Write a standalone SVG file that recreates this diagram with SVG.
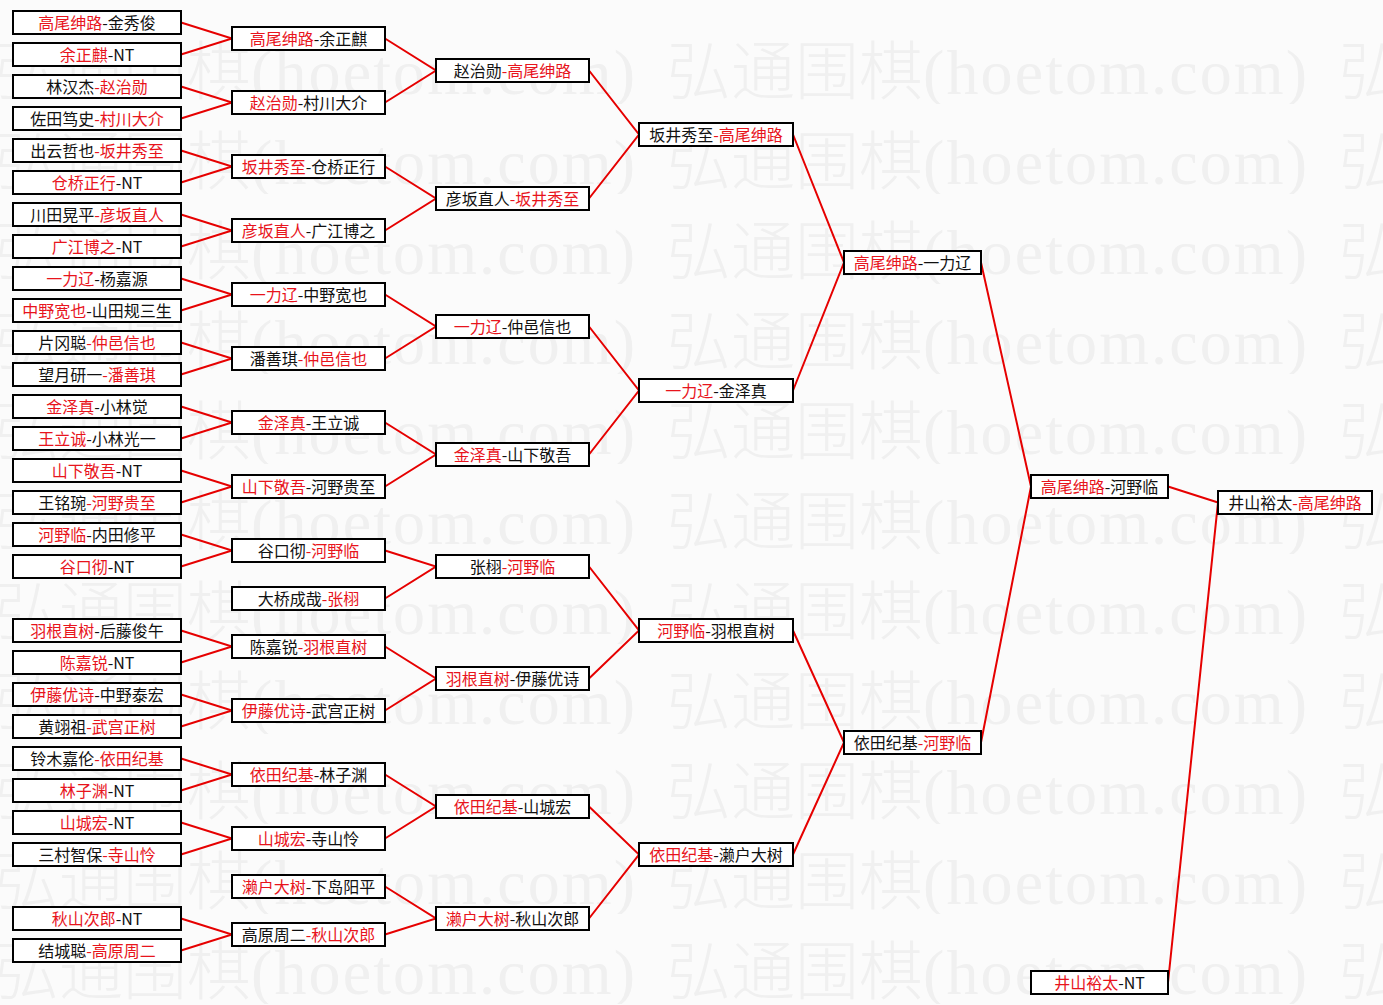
<svg xmlns="http://www.w3.org/2000/svg" width="1383" height="1005" viewBox="0 0 1383 1005">
<defs>
<style>
.bx rect{fill:#fff;stroke:#000;stroke-width:2}
.bx text{font-family:"Noto Sans CJK SC","Noto Sans CJK JP",sans-serif;font-size:16px;text-anchor:middle;fill:#111}
.r{fill:#e8141c}
#links path{fill:none;stroke:#e60000;stroke-width:2}
.wm{fill:#f0f0f0;font-size:64px}
</style>
<pattern id="wmp" patternUnits="userSpaceOnUse" x="-5" y="14" width="672" height="90">
<text class="wm" x="0" y="80" font-family="Noto Sans CJK SC, sans-serif" font-weight="300">弘通围棋</text>
<text class="wm" x="256" y="80" font-family="Liberation Serif, serif" textLength="384" lengthAdjust="spacing">(hoetom.com)</text>
</pattern>
</defs>
<rect x="0" y="0" width="1383" height="1005" fill="#fbfbfb"/>
<rect x="0" y="14" width="1383" height="991" fill="url(#wmp)"/>

<g id="links">
<path d="M181 22.5L232 38.5L181 54.5"/>
<path d="M181 86.5L232 102.5L181 118.5"/>
<path d="M181 150.5L232 166.5L181 182.5"/>
<path d="M181 214.5L232 230.5L181 246.5"/>
<path d="M181 278.5L232 294.5L181 310.5"/>
<path d="M181 342.5L232 358.5L181 374.5"/>
<path d="M181 406.5L232 422.5L181 438.5"/>
<path d="M181 470.5L232 486.5L181 502.5"/>
<path d="M181 534.5L232 550.5L181 566.5"/>
<path d="M181 630.5L232 646.5L181 662.5"/>
<path d="M181 694.5L232 710.5L181 726.5"/>
<path d="M181 758.5L232 774.5L181 790.5"/>
<path d="M181 822.5L232 838.5L181 854.5"/>
<path d="M181 918.5L232 934.5L181 950.5"/>
<path d="M385 38.5L436 70.5L385 102.5"/>
<path d="M385 166.5L436 198.5L385 230.5"/>
<path d="M385 294.5L436 326.5L385 358.5"/>
<path d="M385 422.5L436 454.5L385 486.5"/>
<path d="M385 550.5L436 566.5L385 598.5"/>
<path d="M385 646.5L436 678.5L385 710.5"/>
<path d="M385 774.5L436 806.5L385 838.5"/>
<path d="M385 886.5L436 918.5L385 934.5"/>
<path d="M589 70.5L639 134.5L589 198.5"/>
<path d="M589 326.5L639 390.5L589 454.5"/>
<path d="M589 566.5L639 630.5L589 678.5"/>
<path d="M589 806.5L639 854.5L589 918.5"/>
<path d="M793 134.5L844 262.5L793 390.5"/>
<path d="M793 630.5L844 742.5L793 854.5"/>
<path d="M981 262.5L1031 486.5L981 742.5"/>
<path d="M1168 486.5L1218 502.5L1168 982.5"/>
</g>

<g id="r1-01" class="bx" transform="translate(0,22.5)"><rect x="13" y="-11.5" width="168" height="23"/><text x="97" y="6"><tspan class="r">高尾绅路</tspan>-金秀俊</text></g>
<g id="r1-02" class="bx" transform="translate(0,54.5)"><rect x="13" y="-11.5" width="168" height="23"/><text x="97" y="6"><tspan class="r">余正麒</tspan>-NT</text></g>
<g id="r1-03" class="bx" transform="translate(0,86.5)"><rect x="13" y="-11.5" width="168" height="23"/><text x="97" y="6">林汉杰<tspan class="r">-赵治勋</tspan></text></g>
<g id="r1-04" class="bx" transform="translate(0,118.5)"><rect x="13" y="-11.5" width="168" height="23"/><text x="97" y="6">佐田笃史<tspan class="r">-村川大介</tspan></text></g>
<g id="r1-05" class="bx" transform="translate(0,150.5)"><rect x="13" y="-11.5" width="168" height="23"/><text x="97" y="6">出云哲也<tspan class="r">-坂井秀至</tspan></text></g>
<g id="r1-06" class="bx" transform="translate(0,182.5)"><rect x="13" y="-11.5" width="168" height="23"/><text x="97" y="6"><tspan class="r">仓桥正行</tspan>-NT</text></g>
<g id="r1-07" class="bx" transform="translate(0,214.5)"><rect x="13" y="-11.5" width="168" height="23"/><text x="97" y="6">川田晃平<tspan class="r">-彦坂直人</tspan></text></g>
<g id="r1-08" class="bx" transform="translate(0,246.5)"><rect x="13" y="-11.5" width="168" height="23"/><text x="97" y="6"><tspan class="r">广江博之</tspan>-NT</text></g>
<g id="r1-09" class="bx" transform="translate(0,278.5)"><rect x="13" y="-11.5" width="168" height="23"/><text x="97" y="6"><tspan class="r">一力辽</tspan>-杨嘉源</text></g>
<g id="r1-10" class="bx" transform="translate(0,310.5)"><rect x="13" y="-11.5" width="168" height="23"/><text x="97" y="6"><tspan class="r">中野宽也</tspan>-山田规三生</text></g>
<g id="r1-11" class="bx" transform="translate(0,342.5)"><rect x="13" y="-11.5" width="168" height="23"/><text x="97" y="6">片冈聪<tspan class="r">-仲邑信也</tspan></text></g>
<g id="r1-12" class="bx" transform="translate(0,374.5)"><rect x="13" y="-11.5" width="168" height="23"/><text x="97" y="6">望月研一<tspan class="r">-潘善琪</tspan></text></g>
<g id="r1-13" class="bx" transform="translate(0,406.5)"><rect x="13" y="-11.5" width="168" height="23"/><text x="97" y="6"><tspan class="r">金泽真</tspan>-小林觉</text></g>
<g id="r1-14" class="bx" transform="translate(0,438.5)"><rect x="13" y="-11.5" width="168" height="23"/><text x="97" y="6"><tspan class="r">王立诚</tspan>-小林光一</text></g>
<g id="r1-15" class="bx" transform="translate(0,470.5)"><rect x="13" y="-11.5" width="168" height="23"/><text x="97" y="6"><tspan class="r">山下敬吾</tspan>-NT</text></g>
<g id="r1-16" class="bx" transform="translate(0,502.5)"><rect x="13" y="-11.5" width="168" height="23"/><text x="97" y="6">王铭琬<tspan class="r">-河野贵至</tspan></text></g>
<g id="r1-17" class="bx" transform="translate(0,534.5)"><rect x="13" y="-11.5" width="168" height="23"/><text x="97" y="6"><tspan class="r">河野临</tspan>-内田修平</text></g>
<g id="r1-18" class="bx" transform="translate(0,566.5)"><rect x="13" y="-11.5" width="168" height="23"/><text x="97" y="6"><tspan class="r">谷口彻</tspan>-NT</text></g>
<g id="r1-19" class="bx" transform="translate(0,630.5)"><rect x="13" y="-11.5" width="168" height="23"/><text x="97" y="6"><tspan class="r">羽根直树</tspan>-后藤俊午</text></g>
<g id="r1-20" class="bx" transform="translate(0,662.5)"><rect x="13" y="-11.5" width="168" height="23"/><text x="97" y="6"><tspan class="r">陈嘉锐</tspan>-NT</text></g>
<g id="r1-21" class="bx" transform="translate(0,694.5)"><rect x="13" y="-11.5" width="168" height="23"/><text x="97" y="6"><tspan class="r">伊藤优诗</tspan>-中野泰宏</text></g>
<g id="r1-22" class="bx" transform="translate(0,726.5)"><rect x="13" y="-11.5" width="168" height="23"/><text x="97" y="6">黄翊祖<tspan class="r">-武宫正树</tspan></text></g>
<g id="r1-23" class="bx" transform="translate(0,758.5)"><rect x="13" y="-11.5" width="168" height="23"/><text x="97" y="6">铃木嘉伦<tspan class="r">-依田纪基</tspan></text></g>
<g id="r1-24" class="bx" transform="translate(0,790.5)"><rect x="13" y="-11.5" width="168" height="23"/><text x="97" y="6"><tspan class="r">林子渊</tspan>-NT</text></g>
<g id="r1-25" class="bx" transform="translate(0,822.5)"><rect x="13" y="-11.5" width="168" height="23"/><text x="97" y="6"><tspan class="r">山城宏</tspan>-NT</text></g>
<g id="r1-26" class="bx" transform="translate(0,854.5)"><rect x="13" y="-11.5" width="168" height="23"/><text x="97" y="6">三村智保<tspan class="r">-寺山怜</tspan></text></g>
<g id="r1-27" class="bx" transform="translate(0,918.5)"><rect x="13" y="-11.5" width="168" height="23"/><text x="97" y="6"><tspan class="r">秋山次郎</tspan>-NT</text></g>
<g id="r1-28" class="bx" transform="translate(0,950.5)"><rect x="13" y="-11.5" width="168" height="23"/><text x="97" y="6">结城聪<tspan class="r">-高原周二</tspan></text></g>

<g id="r2-01" class="bx" transform="translate(0,38.5)"><rect x="232" y="-11.5" width="153" height="23"/><text x="308.5" y="6"><tspan class="r">高尾绅路</tspan>-余正麒</text></g>
<g id="r2-02" class="bx" transform="translate(0,102.5)"><rect x="232" y="-11.5" width="153" height="23"/><text x="308.5" y="6"><tspan class="r">赵治勋</tspan>-村川大介</text></g>
<g id="r2-03" class="bx" transform="translate(0,166.5)"><rect x="232" y="-11.5" width="153" height="23"/><text x="308.5" y="6"><tspan class="r">坂井秀至</tspan>-仓桥正行</text></g>
<g id="r2-04" class="bx" transform="translate(0,230.5)"><rect x="232" y="-11.5" width="153" height="23"/><text x="308.5" y="6"><tspan class="r">彦坂直人</tspan>-广江博之</text></g>
<g id="r2-05" class="bx" transform="translate(0,294.5)"><rect x="232" y="-11.5" width="153" height="23"/><text x="308.5" y="6"><tspan class="r">一力辽</tspan>-中野宽也</text></g>
<g id="r2-06" class="bx" transform="translate(0,358.5)"><rect x="232" y="-11.5" width="153" height="23"/><text x="308.5" y="6">潘善琪<tspan class="r">-仲邑信也</tspan></text></g>
<g id="r2-07" class="bx" transform="translate(0,422.5)"><rect x="232" y="-11.5" width="153" height="23"/><text x="308.5" y="6"><tspan class="r">金泽真</tspan>-王立诚</text></g>
<g id="r2-08" class="bx" transform="translate(0,486.5)"><rect x="232" y="-11.5" width="153" height="23"/><text x="308.5" y="6"><tspan class="r">山下敬吾</tspan>-河野贵至</text></g>
<g id="r2-09" class="bx" transform="translate(0,550.5)"><rect x="232" y="-11.5" width="153" height="23"/><text x="308.5" y="6">谷口彻<tspan class="r">-河野临</tspan></text></g>
<g id="r2-10" class="bx" transform="translate(0,598.5)"><rect x="232" y="-11.5" width="153" height="23"/><text x="308.5" y="6">大桥成哉<tspan class="r">-张栩</tspan></text></g>
<g id="r2-11" class="bx" transform="translate(0,646.5)"><rect x="232" y="-11.5" width="153" height="23"/><text x="308.5" y="6">陈嘉锐<tspan class="r">-羽根直树</tspan></text></g>
<g id="r2-12" class="bx" transform="translate(0,710.5)"><rect x="232" y="-11.5" width="153" height="23"/><text x="308.5" y="6"><tspan class="r">伊藤优诗</tspan>-武宫正树</text></g>
<g id="r2-13" class="bx" transform="translate(0,774.5)"><rect x="232" y="-11.5" width="153" height="23"/><text x="308.5" y="6"><tspan class="r">依田纪基</tspan>-林子渊</text></g>
<g id="r2-14" class="bx" transform="translate(0,838.5)"><rect x="232" y="-11.5" width="153" height="23"/><text x="308.5" y="6"><tspan class="r">山城宏</tspan>-寺山怜</text></g>
<g id="r2-15" class="bx" transform="translate(0,886.5)"><rect x="232" y="-11.5" width="153" height="23"/><text x="308.5" y="6"><tspan class="r">濑户大树</tspan>-下岛阳平</text></g>
<g id="r2-16" class="bx" transform="translate(0,934.5)"><rect x="232" y="-11.5" width="153" height="23"/><text x="308.5" y="6">高原周二<tspan class="r">-秋山次郎</tspan></text></g>

<g id="r3-1" class="bx" transform="translate(0,70.5)"><rect x="436" y="-11.5" width="153" height="23"/><text x="512.5" y="6">赵治勋<tspan class="r">-高尾绅路</tspan></text></g>
<g id="r3-2" class="bx" transform="translate(0,198.5)"><rect x="436" y="-11.5" width="153" height="23"/><text x="512.5" y="6">彦坂直人<tspan class="r">-坂井秀至</tspan></text></g>
<g id="r3-3" class="bx" transform="translate(0,326.5)"><rect x="436" y="-11.5" width="153" height="23"/><text x="512.5" y="6"><tspan class="r">一力辽</tspan>-仲邑信也</text></g>
<g id="r3-4" class="bx" transform="translate(0,454.5)"><rect x="436" y="-11.5" width="153" height="23"/><text x="512.5" y="6"><tspan class="r">金泽真</tspan>-山下敬吾</text></g>
<g id="r3-5" class="bx" transform="translate(0,566.5)"><rect x="436" y="-11.5" width="153" height="23"/><text x="512.5" y="6">张栩<tspan class="r">-河野临</tspan></text></g>
<g id="r3-6" class="bx" transform="translate(0,678.5)"><rect x="436" y="-11.5" width="153" height="23"/><text x="512.5" y="6"><tspan class="r">羽根直树</tspan>-伊藤优诗</text></g>
<g id="r3-7" class="bx" transform="translate(0,806.5)"><rect x="436" y="-11.5" width="153" height="23"/><text x="512.5" y="6"><tspan class="r">依田纪基</tspan>-山城宏</text></g>
<g id="r3-8" class="bx" transform="translate(0,918.5)"><rect x="436" y="-11.5" width="153" height="23"/><text x="512.5" y="6"><tspan class="r">濑户大树</tspan>-秋山次郎</text></g>

<g id="r4-1" class="bx" transform="translate(0,134.5)"><rect x="639" y="-11.5" width="154" height="23"/><text x="716" y="6">坂井秀至<tspan class="r">-高尾绅路</tspan></text></g>
<g id="r4-2" class="bx" transform="translate(0,390.5)"><rect x="639" y="-11.5" width="154" height="23"/><text x="716" y="6"><tspan class="r">一力辽</tspan>-金泽真</text></g>
<g id="r4-3" class="bx" transform="translate(0,630.5)"><rect x="639" y="-11.5" width="154" height="23"/><text x="716" y="6"><tspan class="r">河野临</tspan>-羽根直树</text></g>
<g id="r4-4" class="bx" transform="translate(0,854.5)"><rect x="639" y="-11.5" width="154" height="23"/><text x="716" y="6"><tspan class="r">依田纪基</tspan>-濑户大树</text></g>

<g id="r5-1" class="bx" transform="translate(0,262.5)"><rect x="844" y="-11.5" width="137" height="23"/><text x="912.5" y="6"><tspan class="r">高尾绅路</tspan>-一力辽</text></g>
<g id="r5-2" class="bx" transform="translate(0,742.5)"><rect x="844" y="-11.5" width="137" height="23"/><text x="912.5" y="6">依田纪基<tspan class="r">-河野临</tspan></text></g>

<g id="r6-1" class="bx" transform="translate(0,486.5)"><rect x="1031" y="-11.5" width="137" height="23"/><text x="1099.5" y="6"><tspan class="r">高尾绅路</tspan>-河野临</text></g>
<g id="r6-2" class="bx" transform="translate(0,982.5)"><rect x="1031" y="-11.5" width="137" height="23"/><text x="1099.5" y="6"><tspan class="r">井山裕太</tspan>-NT</text></g>

<g id="final" class="bx" transform="translate(0,502.5)"><rect x="1218" y="-11.5" width="154" height="23"/><text x="1295" y="6">井山裕太<tspan class="r">-高尾绅路</tspan></text></g>
</svg>
